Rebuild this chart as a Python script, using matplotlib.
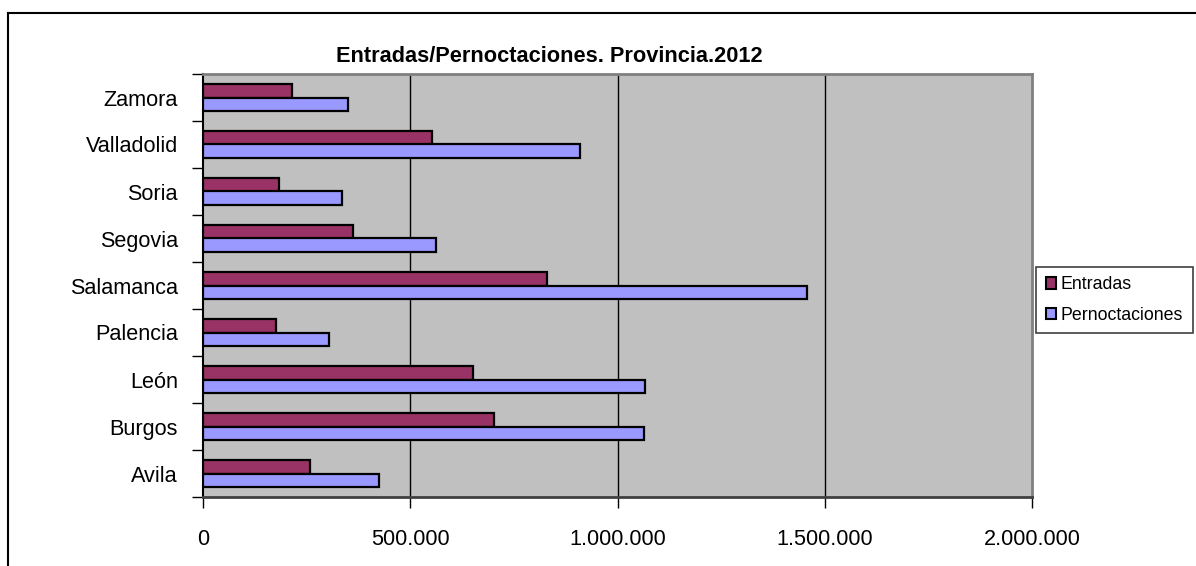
import matplotlib

matplotlib.use("Agg")
import matplotlib.pyplot as plt
import numpy as np
from matplotlib.lines import Line2D
from matplotlib.patches import Patch
from matplotlib.ticker import FuncFormatter

plt.rcParams["font.family"] = ["Liberation Sans", "DejaVu Sans"]

# --- data ----------------------------------------------------------------
provincias = ["Avila", "Burgos", "León", "Palencia", "Salamanca",
              "Segovia", "Soria", "Valladolid", "Zamora"]
entradas = [259000, 701000, 651000, 177000, 830000, 362000, 183000, 552000, 215000]
pernoctaciones = [424000, 1063000, 1067000, 303000, 1457000, 563000, 336000, 909000, 350000]
x_ticks = [0, 500000, 1000000, 1500000, 2000000]
titulo = "Entradas/Pernoctaciones. Provincia.2012"

C_ENT = "#993366"
C_PER = "#9999FF"

fig = plt.figure(figsize=(11.96, 5.66), dpi=100)
ax = fig.add_axes([203 / 1196, 1 - 497 / 566, 829 / 1196, 423 / 566])
ax.set_facecolor("#C0C0C0")

y = np.arange(len(provincias))
h = 0.28
ax.barh(y + h / 2, entradas, height=h, color=C_ENT, edgecolor="black", linewidth=1.6,
        zorder=3, label="Entradas")
ax.barh(y - h / 2, pernoctaciones, height=h, color=C_PER, edgecolor="black", linewidth=1.6,
        zorder=3, label="Pernoctaciones")

ax.set_xlim(0, 2000000)
ax.set_ylim(-0.5, len(provincias) - 0.5)

ax.set_xticks(x_ticks)
ax.xaxis.set_major_formatter(FuncFormatter(lambda v, _: f"{int(v):,}".replace(",", ".")))
ax.tick_params(axis="x", length=8, width=1, pad=15, labelsize=15.6, color="black")
for g in x_ticks[1:-1]:
    ax.axvline(g, color="black", linewidth=1, zorder=1)

# category boundaries as major ticks, names on minor ticks
ax.set_yticks(np.arange(len(provincias) + 1) - 0.5)
ax.set_yticklabels([])
ax.set_yticks(y, minor=True)
ax.set_yticklabels(provincias, minor=True)
ax.tick_params(axis="y", which="major", length=8, width=1, color="black")
ax.tick_params(axis="y", which="minor", length=0, pad=18, labelsize=15.6)

for side in ("top", "right"):
    ax.spines[side].set_color("#808080")
    ax.spines[side].set_linewidth(2)
ax.spines["left"].set_color("black")
ax.spines["left"].set_linewidth(1.5)
ax.spines["bottom"].set_color("#404040")
ax.spines["bottom"].set_linewidth(2)

fig.text(549 / 1196, 1 - 62 / 566, titulo, ha="center", va="baseline",
         fontsize=15.7, fontweight="bold")

handles = [Patch(facecolor=C_ENT, edgecolor="black", linewidth=1.5, label="Entradas"),
           Patch(facecolor=C_PER, edgecolor="black", linewidth=1.5, label="Pernoctaciones")]
leg = fig.legend(handles=handles, loc="center left",
                 bbox_to_anchor=(1036 / 1196, 1 - 300 / 566), fontsize=12.8,
                 handlelength=0.6, handleheight=0.6, handletextpad=0.25,
                 borderpad=0.55, labelspacing=0.75, borderaxespad=0,
                 fancybox=False, framealpha=1)
leg.get_frame().set_edgecolor("#404040")
leg.get_frame().set_linewidth(1.2)

# outer chart frame (cut off at right and bottom)
fig.add_artist(Line2D([8 / 1196, 8 / 1196], [0, 1 - 13 / 566], transform=fig.transFigure,
                      color="black", linewidth=1.5))
fig.add_artist(Line2D([8 / 1196, 1], [1 - 13 / 566, 1 - 13 / 566], transform=fig.transFigure,
                      color="black", linewidth=1.5))

fig.savefig("out.png", dpi=100, facecolor="white")
